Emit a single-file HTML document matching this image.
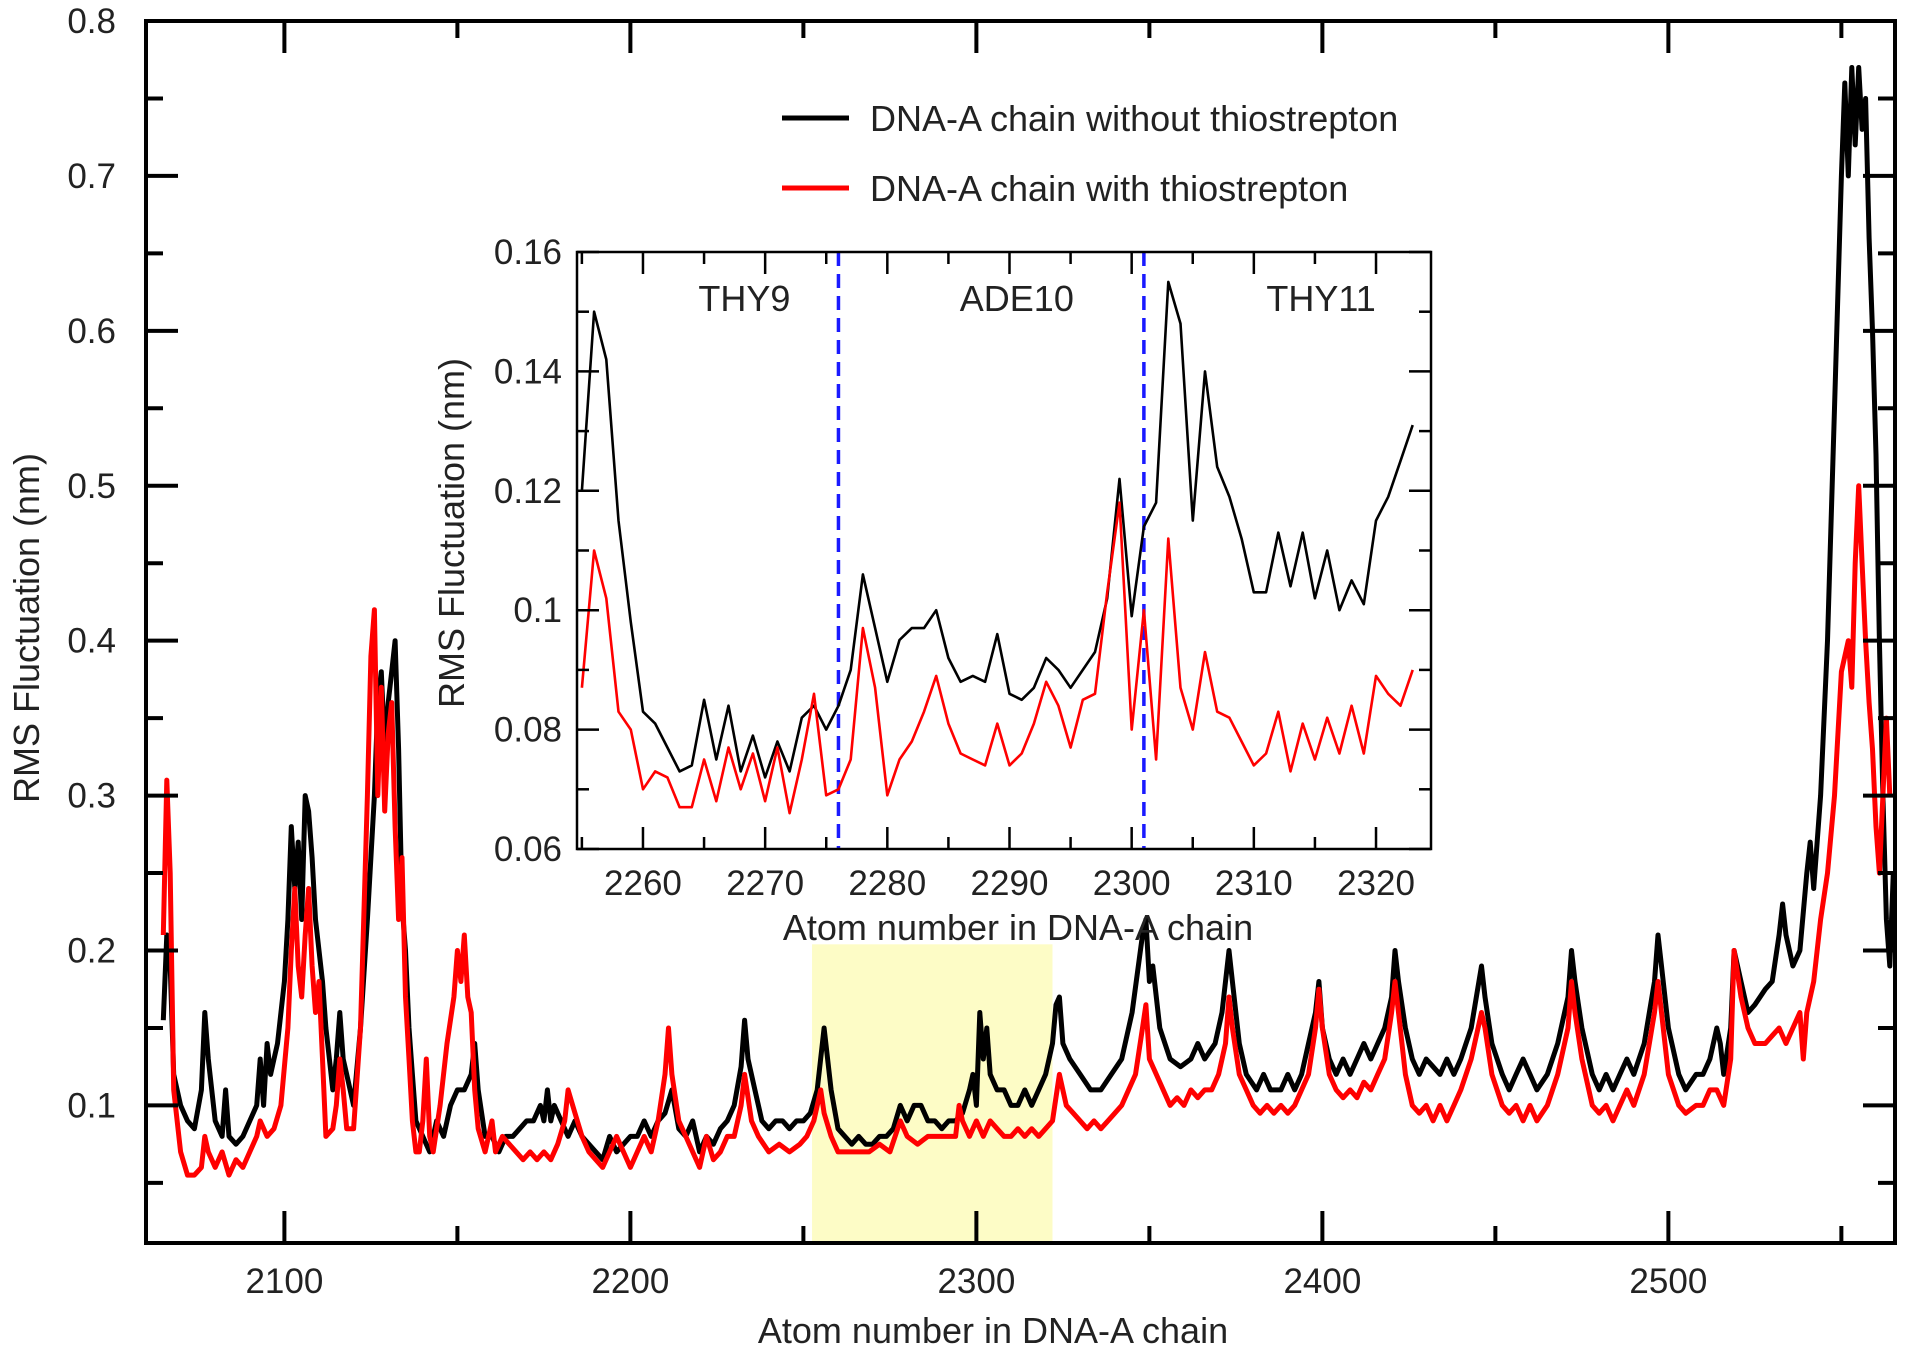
<!DOCTYPE html>
<html><head><meta charset="utf-8"><style>
html,body{margin:0;padding:0;background:#fff;}
svg{display:block;font-family:"Liberation Sans",Arial,sans-serif;}
</style></head><body>
<svg id="chart" width="1913" height="1356" viewBox="0 0 1913 1356" xmlns="http://www.w3.org/2000/svg">
<rect x="0" y="0" width="1913" height="1356" fill="#fff"/>
<g id="main"></g>
<g id="inset"></g>
</svg>
<script>
// ---------- MAIN CHART DATA ----------
const mainBlackAtoms=[2065,2066,2067,2068,2070,2072,2074,2076,2077,2078,2080,2082,2083,2084,2086,2088,2090,2092,2093,2094,2095,2096,2097,2098,2100,2101,2102,2103,2104,2105,2106,2107,2108,2109,2110,2111,2112,2113,2114,2115,2116,2117,2118,2120,2122,2124,2126,2127,2128,2129,2130,2131,2132,2133,2134,2135,2136,2137,2138,2140,2142,2144,2146,2148,2150,2152,2154,2155,2156,2158,2160,2162,2164,2166,2168,2170,2172,2174,2175,2176,2177,2178,2180,2182,2184,2186,2188,2190,2192,2194,2196,2198,2200,2202,2204,2206,2208,2210,2212,2214,2216,2218,2220,2222,2224,2226,2228,2230,2232,2233,2234,2236,2238,2240,2242,2244,2246,2248,2250,2252,2254,2256,2258,2260,2262,2264,2266,2268,2270,2272,2274,2276,2278,2280,2282,2284,2286,2288,2290,2292,2294,2296,2298,2299,2300,2301,2302,2303,2304,2306,2308,2310,2312,2314,2316,2318,2320,2322,2323,2324,2325,2327,2330,2333,2336,2339,2342,2345,2348,2349,2350,2351,2353,2356,2359,2362,2364,2366,2369,2371,2373,2374,2376,2378,2381,2383,2385,2388,2390,2392,2394,2396,2398,2399,2400,2402,2404,2406,2408,2410,2412,2414,2416,2418,2420,2421,2422,2424,2426,2428,2430,2432,2434,2436,2438,2440,2443,2446,2447,2449,2452,2454,2456,2458,2460,2462,2465,2468,2471,2472,2473,2475,2478,2480,2482,2484,2486,2488,2490,2493,2496,2497,2498,2500,2503,2505,2508,2510,2512,2514,2515,2516,2518,2519,2521,2523,2525,2528,2530,2532,2533,2534,2536,2538,2540,2541,2542,2544,2546,2548,2550,2551,2552,2553,2554,2555,2556,2557,2558,2559,2560,2561,2562,2563,2564,2565];
const mainBlackValues=[0.155,0.21,0.19,0.12,0.10,0.09,0.085,0.11,0.16,0.13,0.09,0.08,0.11,0.08,0.075,0.08,0.09,0.10,0.13,0.10,0.14,0.12,0.13,0.14,0.18,0.22,0.28,0.24,0.27,0.22,0.30,0.29,0.26,0.22,0.20,0.18,0.15,0.13,0.11,0.13,0.16,0.13,0.12,0.10,0.15,0.22,0.30,0.36,0.38,0.33,0.36,0.38,0.40,0.33,0.23,0.20,0.15,0.12,0.09,0.08,0.07,0.09,0.08,0.10,0.11,0.11,0.12,0.14,0.11,0.08,0.08,0.07,0.08,0.08,0.085,0.09,0.09,0.10,0.09,0.11,0.09,0.10,0.09,0.08,0.09,0.08,0.075,0.07,0.065,0.08,0.07,0.075,0.08,0.08,0.09,0.08,0.09,0.095,0.11,0.085,0.08,0.09,0.07,0.08,0.075,0.085,0.09,0.10,0.125,0.155,0.13,0.11,0.09,0.085,0.09,0.09,0.085,0.09,0.09,0.095,0.11,0.15,0.11,0.085,0.08,0.075,0.08,0.075,0.075,0.08,0.08,0.085,0.10,0.09,0.10,0.10,0.09,0.09,0.085,0.09,0.09,0.095,0.11,0.12,0.10,0.16,0.13,0.15,0.12,0.11,0.11,0.10,0.10,0.11,0.10,0.11,0.12,0.14,0.165,0.17,0.14,0.13,0.12,0.11,0.11,0.12,0.13,0.16,0.21,0.22,0.18,0.19,0.15,0.13,0.125,0.13,0.14,0.13,0.14,0.16,0.20,0.18,0.14,0.12,0.11,0.12,0.11,0.11,0.12,0.11,0.12,0.14,0.16,0.18,0.15,0.13,0.12,0.13,0.12,0.13,0.14,0.13,0.14,0.15,0.17,0.20,0.18,0.15,0.13,0.12,0.13,0.125,0.12,0.13,0.12,0.13,0.15,0.19,0.17,0.14,0.12,0.11,0.12,0.13,0.12,0.11,0.12,0.14,0.17,0.20,0.18,0.15,0.12,0.11,0.12,0.11,0.12,0.13,0.12,0.14,0.18,0.21,0.19,0.15,0.12,0.11,0.12,0.12,0.13,0.15,0.14,0.12,0.15,0.20,0.18,0.16,0.165,0.175,0.18,0.21,0.23,0.21,0.19,0.20,0.25,0.27,0.24,0.30,0.40,0.55,0.70,0.76,0.70,0.77,0.72,0.77,0.73,0.75,0.66,0.60,0.52,0.40,0.30,0.22,0.19,0.25];
const mainRedAtoms=[2065,2066,2067,2068,2070,2072,2074,2076,2077,2078,2080,2082,2084,2086,2088,2090,2092,2093,2095,2097,2099,2101,2102,2103,2104,2105,2106,2107,2108,2109,2110,2111,2112,2114,2115,2116,2117,2118,2120,2122,2124,2125,2126,2127,2128,2129,2130,2131,2132,2133,2134,2135,2136,2137,2138,2139,2140,2141,2142,2143,2145,2147,2149,2150,2151,2152,2153,2154,2155,2156,2158,2160,2161,2163,2165,2167,2169,2171,2173,2175,2177,2179,2181,2182,2184,2186,2188,2190,2192,2194,2196,2198,2200,2202,2204,2206,2208,2210,2211,2212,2214,2216,2218,2220,2222,2224,2226,2228,2230,2232,2233,2235,2237,2240,2243,2246,2249,2251,2253,2255,2256,2258,2260,2263,2266,2269,2272,2275,2278,2280,2283,2286,2289,2292,2294,2295,2296,2298,2300,2302,2304,2306,2308,2310,2312,2314,2316,2318,2320,2322,2324,2326,2328,2330,2332,2334,2336,2338,2340,2342,2344,2346,2348,2349,2350,2352,2354,2356,2358,2360,2362,2364,2366,2368,2370,2372,2373,2374,2376,2378,2380,2382,2384,2386,2388,2390,2392,2394,2396,2398,2399,2400,2402,2404,2406,2408,2410,2412,2414,2416,2418,2420,2421,2422,2424,2426,2428,2430,2432,2434,2436,2438,2440,2443,2446,2447,2449,2452,2454,2456,2458,2460,2462,2465,2468,2471,2472,2473,2475,2478,2480,2482,2484,2486,2488,2490,2493,2496,2497,2498,2500,2503,2505,2508,2510,2512,2514,2516,2518,2519,2521,2523,2525,2528,2530,2532,2534,2536,2538,2539,2540,2542,2544,2546,2548,2550,2552,2553,2554,2555,2556,2557,2558,2559,2560,2561,2562,2563,2564];
const mainRedValues=[0.21,0.31,0.25,0.11,0.07,0.055,0.055,0.06,0.08,0.07,0.06,0.07,0.055,0.065,0.06,0.07,0.08,0.09,0.08,0.085,0.10,0.15,0.20,0.24,0.19,0.17,0.21,0.24,0.19,0.16,0.18,0.13,0.08,0.085,0.10,0.13,0.11,0.085,0.085,0.15,0.30,0.39,0.42,0.30,0.37,0.29,0.34,0.36,0.28,0.22,0.26,0.17,0.13,0.09,0.07,0.07,0.09,0.13,0.08,0.07,0.10,0.14,0.17,0.20,0.18,0.21,0.17,0.16,0.11,0.085,0.07,0.09,0.07,0.08,0.075,0.07,0.065,0.07,0.065,0.07,0.065,0.075,0.09,0.11,0.095,0.08,0.07,0.065,0.06,0.07,0.08,0.07,0.06,0.07,0.08,0.07,0.09,0.12,0.15,0.12,0.09,0.08,0.07,0.06,0.08,0.065,0.07,0.08,0.08,0.10,0.12,0.09,0.08,0.07,0.075,0.07,0.075,0.08,0.09,0.11,0.095,0.08,0.07,0.07,0.07,0.07,0.075,0.07,0.09,0.08,0.075,0.08,0.08,0.08,0.08,0.10,0.09,0.08,0.09,0.08,0.09,0.085,0.08,0.08,0.085,0.08,0.085,0.08,0.085,0.09,0.12,0.10,0.095,0.09,0.085,0.09,0.085,0.09,0.095,0.10,0.11,0.12,0.15,0.165,0.13,0.12,0.11,0.10,0.105,0.10,0.11,0.105,0.11,0.11,0.12,0.14,0.17,0.15,0.12,0.11,0.10,0.095,0.10,0.095,0.10,0.095,0.10,0.11,0.12,0.15,0.175,0.15,0.12,0.11,0.105,0.11,0.105,0.115,0.11,0.12,0.13,0.16,0.18,0.16,0.12,0.10,0.095,0.10,0.09,0.10,0.09,0.10,0.11,0.13,0.16,0.15,0.12,0.10,0.095,0.10,0.09,0.10,0.09,0.10,0.12,0.15,0.18,0.16,0.13,0.10,0.095,0.10,0.09,0.10,0.11,0.10,0.12,0.16,0.18,0.16,0.12,0.10,0.095,0.10,0.10,0.11,0.11,0.10,0.13,0.20,0.17,0.15,0.14,0.14,0.145,0.15,0.14,0.15,0.16,0.13,0.16,0.18,0.22,0.25,0.30,0.38,0.40,0.37,0.45,0.50,0.45,0.40,0.36,0.33,0.28,0.25,0.30,0.35,0.30];
const mainYTicks=[0.1,0.2,0.3,0.4,0.5,0.6,0.7,0.8];
const mainYTickLabels=["0.1","0.2","0.3","0.4","0.5","0.6","0.7","0.8"];
const mainXTicks=[2100,2200,2300,2400,2500];
const mainXTickLabels=["2100","2200","2300","2400","2500"];
const highlightRange=[2252.5,2322];
const highlightTop=0.204;

// ---------- INSET DATA ----------
const insetAtoms=[2255,2256,2257,2258,2259,2260,2261,2262,2263,2264,2265,2266,2267,2268,2269,2270,2271,2272,2273,2274,2275,2276,2277,2278,2279,2280,2281,2282,2283,2284,2285,2286,2287,2288,2289,2290,2291,2292,2293,2294,2295,2296,2297,2298,2299,2300,2301,2302,2303,2304,2305,2306,2307,2308,2309,2310,2311,2312,2313,2314,2315,2316,2317,2318,2319,2320,2321,2322,2323];
const insetBlack=[0.12,0.15,0.142,0.115,0.098,0.083,0.081,0.077,0.073,0.074,0.085,0.075,0.084,0.073,0.079,0.072,0.078,0.073,0.082,0.084,0.080,0.084,0.090,0.106,0.097,0.088,0.095,0.097,0.097,0.100,0.092,0.088,0.089,0.088,0.096,0.086,0.085,0.087,0.092,0.090,0.087,0.090,0.093,0.102,0.122,0.099,0.114,0.118,0.155,0.148,0.115,0.140,0.124,0.119,0.112,0.103,0.103,0.113,0.104,0.113,0.102,0.110,0.100,0.105,0.101,0.115,0.119,0.125,0.131];
const insetRed=[0.087,0.110,0.102,0.083,0.080,0.070,0.073,0.072,0.067,0.067,0.075,0.068,0.077,0.070,0.076,0.068,0.077,0.066,0.075,0.086,0.069,0.070,0.075,0.097,0.087,0.069,0.075,0.078,0.083,0.089,0.081,0.076,0.075,0.074,0.081,0.074,0.076,0.081,0.088,0.084,0.077,0.085,0.086,0.103,0.118,0.080,0.100,0.075,0.112,0.087,0.080,0.093,0.083,0.082,0.078,0.074,0.076,0.083,0.073,0.081,0.075,0.082,0.076,0.084,0.076,0.089,0.086,0.084,0.090];
const insetYTicks=[0.06,0.08,0.10,0.12,0.14,0.16];
const insetYTickLabels=["0.06","0.08","0.1","0.12","0.14","0.16"];
const insetXTicks=[2260,2270,2280,2290,2300,2310,2320];
const insetXTickLabels=["2260","2270","2280","2290","2300","2310","2320"];
const regionBoundaries=[2276,2301];
const regionNames=["THY9","ADE10","THY11"];
const regionCenters=[2268.3,2290.6,2315.5];

const NS="http://www.w3.org/2000/svg";
function mk(parent,tag,attrs,text){const e=document.createElementNS(NS,tag);for(const k in attrs)e.setAttribute(k,attrs[k]);if(text!==undefined)e.textContent=text;parent.appendChild(e);return e;}

// main axes
const M={l:146,r:1895,t:21,b:1243,x0:2060,x1:2565.5,y0:0.0112,y1:0.8};
const mx=v=>M.l+(v-M.x0)/(M.x1-M.x0)*(M.r-M.l);
const my=v=>M.b-(v-M.y0)/(M.y1-M.y0)*(M.b-M.t);
const main=document.getElementById('main');

const hl=mk(main,'rect',{x:mx(highlightRange[0]),y:my(highlightTop),width:mx(highlightRange[1])-mx(highlightRange[0]),height:M.b-my(highlightTop),fill:'#fdfcc6'});



function series(parent,atoms,vals,fx,fy,color,w,name){
  let d='';atoms.forEach((a,i)=>{d+=(i?'L':'M')+fx(a).toFixed(1)+' '+fy(vals[i]).toFixed(1);});
  const p=mk(parent,'path',{d:d,fill:'none',stroke:color,'stroke-width':w,'stroke-linejoin':'round'});
  
  
}
series(main,mainBlackAtoms,mainBlackValues,mx,my,'#000',5,'series-without-thiostrepton');
series(main,mainRedAtoms,mainRedValues,mx,my,'#f00',5,'series-with-thiostrepton');

// main ticks
for(let v=0.05;v<=0.801;v+=0.05){
  const major=Math.abs(v*10-Math.round(v*10))<0.01;
  const len=major?32:17;
  mk(main,'line',{x1:M.l,x2:M.l+len,y1:my(v),y2:my(v),stroke:'#000','stroke-width':4});
  mk(main,'line',{x1:M.r,x2:M.r-len,y1:my(v),y2:my(v),stroke:'#000','stroke-width':4});
}
mainYTicks.forEach((v,i)=>{
  const t=mk(main,'text',{x:116,y:my(v)+12,'text-anchor':'end','font-size':35,fill:'#222'},mainYTickLabels[i]);
  
  
});
for(let v=2100;v<=2550;v+=50){
  const major=v%100===0;const len=major?32:17;
  mk(main,'line',{x1:mx(v),x2:mx(v),y1:M.b,y2:M.b-len,stroke:'#000','stroke-width':4});
  mk(main,'line',{x1:mx(v),x2:mx(v),y1:M.t,y2:M.t+len,stroke:'#000','stroke-width':4});
}
mainXTicks.forEach((v,i)=>{
  const t=mk(main,'text',{x:mx(v),y:1293,'text-anchor':'middle','font-size':35,fill:'#222'},mainXTickLabels[i]);
  
  
});
const frame=mk(main,'rect',{x:M.l,y:M.t,width:M.r-M.l,height:M.b-M.t,fill:'none',stroke:'#000','stroke-width':4});


const xt=mk(main,'text',{x:993,y:1343,'text-anchor':'middle','font-size':36,fill:'#222'},'Atom number in DNA-A chain');


const yt=mk(main,'text',{x:0,y:0,'text-anchor':'middle','font-size':36,fill:'#222',transform:'translate(39,628) rotate(-90)'},'RMS Fluctuation (nm)');



// legend
const lg=mk(main,'g',{});


mk(lg,'line',{x1:782,x2:849,y1:118,y2:118,stroke:'#000','stroke-width':5});
const l1=mk(lg,'text',{x:870,y:131,'font-size':36,fill:'#222'},'DNA-A chain without thiostrepton');


mk(lg,'line',{x1:782,x2:849,y1:188,y2:188,stroke:'#f00','stroke-width':5});
const l2=mk(lg,'text',{x:870,y:201,'font-size':36,fill:'#222'},'DNA-A chain with thiostrepton');



// inset
const I={l:577,r:1431,t:252,b:849,x0:2254.6,x1:2324.5,y0:0.06,y1:0.16};
const ix=v=>I.l+(v-I.x0)/(I.x1-I.x0)*(I.r-I.l);
const iy=v=>I.b-(v-I.y0)/(I.y1-I.y0)*(I.b-I.t);
const inset=document.getElementById('inset');


mk(inset,'rect',{x:I.l,y:I.t,width:I.r-I.l,height:I.b-I.t,fill:'#fff'});
regionBoundaries.forEach(b=>{
  const l=mk(inset,'line',{x1:ix(b),x2:ix(b),y1:I.t,y2:I.b,stroke:'#1a1aff','stroke-width':3.5,'stroke-dasharray':'14,8'});
  
  
});
series(inset,insetAtoms,insetBlack,ix,iy,'#000',2.6,'inset-series-without');
series(inset,insetAtoms,insetRed,ix,iy,'#f00',2.6,'inset-series-with');
for(let v=0.06;v<=0.1601;v+=0.01){
  const major=Math.round(v*100)%2===0;const len=major?22:12;
  mk(inset,'line',{x1:I.l,x2:I.l+len,y1:iy(v),y2:iy(v),stroke:'#000','stroke-width':2.5});
  mk(inset,'line',{x1:I.r,x2:I.r-len,y1:iy(v),y2:iy(v),stroke:'#000','stroke-width':2.5});
}
insetYTicks.forEach((v,i)=>{
  const t=mk(inset,'text',{x:562,y:iy(v)+12,'text-anchor':'end','font-size':35,fill:'#222'},insetYTickLabels[i]);
  
  
});
for(let v=2255;v<=2324;v+=5){
  const major=v%10===0;const len=major?22:12;
  mk(inset,'line',{x1:ix(v),x2:ix(v),y1:I.b,y2:I.b-len,stroke:'#000','stroke-width':2.5});
  mk(inset,'line',{x1:ix(v),x2:ix(v),y1:I.t,y2:I.t+len,stroke:'#000','stroke-width':2.5});
}
insetXTicks.forEach((v,i)=>{
  const t=mk(inset,'text',{x:ix(v),y:895,'text-anchor':'middle','font-size':35,fill:'#222'},insetXTickLabels[i]);
  
  
});
regionNames.forEach((n,i)=>{
  const t=mk(inset,'text',{x:ix(regionCenters[i]),y:311,'text-anchor':'middle','font-size':36,fill:'#222'},n);
  
  
});
mk(inset,'rect',{x:I.l,y:I.t,width:I.r-I.l,height:I.b-I.t,fill:'none',stroke:'#000','stroke-width':2.5});
const ixt=mk(inset,'text',{x:1018,y:940,'text-anchor':'middle','font-size':36,fill:'#222'},'Atom number in DNA-A chain');


const iyt=mk(inset,'text',{x:0,y:0,'text-anchor':'middle','font-size':36,fill:'#222',transform:'translate(464,533) rotate(-90)'},'RMS Fluctuation (nm)');


</script>
</body></html>
